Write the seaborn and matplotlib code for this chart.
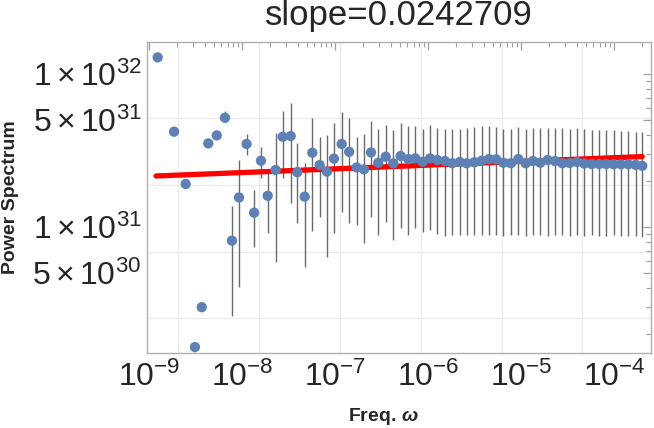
import numpy as np
import pandas as pd
import matplotlib
matplotlib.use("Agg")
import matplotlib.pyplot as plt
import matplotlib.ticker as mticker
import seaborn as sns

# frequency in units of 1e-9
freq_n = [1.24, 1.86, 2.48, 3.12, 3.69, 4.34, 5.35, 6.56, 7.80, 9.29,
          11.2, 13.5, 16.0, 18.9, 23.0, 27.4, 33.4, 39.3, 47.2, 57.0,
          68.4, 82.0, 97.5, 118, 142, 171, 205, 244, 292, 351,
          424, 508, 614, 730, 877, 1052, 1259, 1523, 1824, 2193,
          2606, 3148, 3776, 4529, 5420, 6456, 7806, 9354, 11240, 13460,
          16140, 19370, 23220, 27800, 33340, 40000, 47970, 57410, 69020, 82600,
          99100, 118900, 142600, 170600, 201400]

# power in units of 1e31
power = [12.85, 4.20, 1.91, 0.164, 0.299, 3.52, 3.97, 5.18, 0.814, 1.56,
         3.49, 1.24, 2.71, 1.60, 2.36, 3.89, 3.93, 2.28, 1.58, 3.06,
         2.54, 2.30, 2.80, 3.49, 3.10, 2.45, 2.38, 3.07, 2.63, 2.88,
         2.61, 2.91, 2.78, 2.81, 2.67, 2.81, 2.74, 2.70, 2.61, 2.66,
         2.61, 2.65, 2.71, 2.78, 2.77, 2.63, 2.61, 2.78, 2.61, 2.70,
         2.63, 2.74, 2.70, 2.61, 2.62, 2.66, 2.60, 2.58, 2.58, 2.58,
         2.57, 2.57, 2.57, 2.55, 2.51]

upper = [12.85, 4.20, 1.91, 0.164, 0.299, 3.52, 3.97, 5.75, 1.38, 2.74,
         4.03, 1.75, 3.32, 2.25, 4.10, 5.73, 6.43, 3.52, 2.61, 5.18,
         3.89, 3.99, 4.78, 5.67, 5.16, 3.89, 4.05, 4.95, 4.37, 4.64,
         4.30, 4.80, 4.57, 4.54, 4.35, 4.64, 4.46, 4.35, 4.35, 4.35,
         4.42, 4.53, 4.58, 4.58, 4.53, 4.35, 4.35, 4.53, 4.35, 4.46,
         4.46, 4.46, 4.42, 4.42, 4.35, 4.42, 4.35, 4.30, 4.30, 4.30,
         4.30, 4.24, 4.24, 4.20, 4.15]

lower = [12.85, 4.20, 1.91, 0.164, 0.299, 3.52, 3.97, 4.88, 0.262, 0.404,
         2.96, 0.736, 2.08, 0.91, 0.593, 2.08, 1.44, 1.06, 0.551, 0.946,
         1.16, 0.64, 0.914, 1.26, 1.06, 1.03, 0.786, 1.17, 0.887, 1.08,
         0.822, 0.99, 0.887, 0.98, 0.93, 0.955, 0.90, 0.873, 0.88, 0.88,
         0.89, 0.88, 0.88, 0.89, 0.88, 0.87, 0.88, 0.88, 0.87, 0.88,
         0.88, 0.87, 0.88, 0.88, 0.87, 0.88, 0.87, 0.88, 0.87, 0.87,
         0.88, 0.87, 0.87, 0.87, 0.86]

slope = 0.0242709
intercept_log = 31.55

df = pd.DataFrame({
    "freq": np.array(freq_n) * 1e-9,
    "power": np.array(power) * 1e31,
    "lo": np.array(lower) * 1e31,
    "hi": np.array(upper) * 1e31,
})
fit = pd.DataFrame({"freq": [df["freq"].iloc[0] * 0.96, df["freq"].iloc[-1]]})
fit["power"] = 10 ** intercept_log * fit["freq"] ** slope

sns.set_style("white")
plt.rcParams["font.family"] = ["Liberation Sans", "DejaVu Sans"]
plt.rcParams["mathtext.fontset"] = "custom"
plt.rcParams["mathtext.rm"] = "Liberation Sans"
plt.rcParams["mathtext.it"] = "Liberation Sans:italic"
plt.rcParams["mathtext.bf"] = "Liberation Sans:italic:bold"

fig = plt.figure(figsize=(6.54, 4.28), dpi=100)
ax = fig.add_axes([147 / 654, 1 - 353 / 428, 504 / 654, 311 / 428])
ax.set_xscale("log")
ax.set_yscale("log")

# odd grid spacing as in the original
for v in 10 ** (-8.684 + 0.869 * np.arange(6)):
    ax.axvline(v, color="#ebebeb", lw=0.9, zorder=0)
for v in 10 ** (31.71 - 0.436 * np.arange(4)):
    ax.axhline(v, color="#ebebeb", lw=0.9, zorder=0)

ax.vlines(df["freq"], df["lo"], df["hi"], color="#6a6a6a", lw=1.0, zorder=2)
sns.lineplot(data=fit, x="freq", y="power", color="red", lw=3.8, ax=ax, zorder=3)
sns.scatterplot(data=df, x="freq", y="power", color="#5e81b5", s=55,
                edgecolor="none", ax=ax, zorder=4)

ax.set_xlim(9.52e-10, 2.5e-4)
ax.set_ylim(1.50e30, 1.62e32)

ax.xaxis.set_major_locator(mticker.FixedLocator([1e-9, 1e-8, 1e-7, 1e-6, 1e-5, 1e-4]))
ax.xaxis.set_major_formatter(mticker.FixedFormatter(
    [r"$10^{-9}$", r"$10^{-8}$", r"$10^{-7}$", r"$10^{-6}$", r"$10^{-5}$", r"$10^{-4}$"]))
ax.xaxis.set_minor_locator(mticker.LogLocator(base=10, subs=np.arange(2, 10), numticks=20))
ax.xaxis.set_minor_formatter(mticker.NullFormatter())

ax.yaxis.set_major_locator(mticker.FixedLocator([5e30, 1e31, 5e31, 1e32]))
ax.yaxis.set_major_formatter(mticker.FixedFormatter(
    [r"$5\times10^{30}$", r"$1\times10^{31}$", r"$5\times10^{31}$", r"$1\times10^{32}$"]))
ax.yaxis.set_minor_locator(mticker.FixedLocator(
    [v * 1e30 for v in [2, 3, 4, 6, 7, 8, 9]] + [v * 1e31 for v in [2, 3, 4, 6, 7, 8, 9]]))
ax.yaxis.set_minor_formatter(mticker.NullFormatter())

ax.tick_params(which="both", direction="in", top=True, right=True, color="#a0a0a0")
ax.tick_params(which="major", length=6, width=0.9)
ax.tick_params(which="minor", length=3.5, width=0.8)
ax.tick_params(axis="x", which="major", labelsize=23, pad=6)
ax.tick_params(axis="y", which="major", labelsize=23, pad=4)

for sp in ax.spines.values():
    sp.set_color("#b0b0b0")
    sp.set_linewidth(1.0)

ax.set_xlabel(r"Freq. $\mathbf{\omega}$", fontsize=14, fontweight="bold")
ax.set_ylabel("Power Spectrum", fontsize=14, fontweight="bold")
ax.xaxis.set_label_coords((383 - 147) / 504, -53 / 311)
ax.yaxis.set_label_coords(-128 / 504, 0.5)
ax.set_title("slope=0.0242709", fontsize=25, pad=12)

fig.savefig("out.png", dpi=100)
